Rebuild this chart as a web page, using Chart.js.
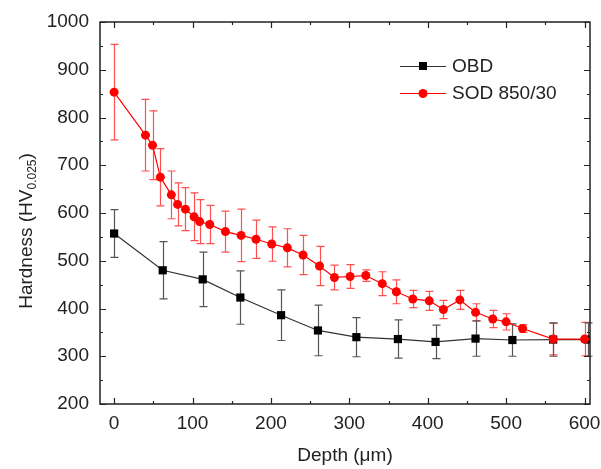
<!DOCTYPE html>
<html>
<head>
<meta charset="utf-8">
<script src="https://cdn.jsdelivr.net/npm/chart.js@4/dist/chart.umd.min.js"></script>
<style>
html, body { margin: 0; padding: 0; background: #fff; }
</style>
</head>
<body>
<canvas id="myChart" width="601" height="469"></canvas>
<script>
// OBD series (black squares)
var obdDepth = [0, 62, 113, 161, 213, 260, 309, 362, 410, 461, 508, 560, 604];
var obdHard  = [557, 480, 461, 423, 386, 354, 340, 336, 330, 337, 334, 335, 335];
var obdErr   = [50, 60, 57, 56, 53, 53, 41, 40, 35, 37, 34, 35, 35];

// SOD 850/30 series (red circles)
var sodDepth = [0, 40, 49, 59, 73, 81, 91, 102, 109, 122, 142, 162, 181, 201, 221, 241,
                262, 281, 301, 321, 342, 360, 381, 402, 420, 441, 461, 483, 500, 521, 560, 600];
var sodHard  = [853, 763, 742, 675, 638, 618, 608, 592, 582, 576, 561, 553, 545, 535, 527, 512,
                489, 465, 467, 469, 452, 435, 420, 416, 398, 418, 392, 378, 372, 358, 336, 336];
var sodErr   = [100, 75, 72, 60, 50, 45, 45, 50, 46, 40, 43, 55, 40, 36, 40, 41,
                41, 26, 25, 12, 25, 25, 18, 20, 19, 20, 18, 18, 17, 8, 33, 35];

var xTicks = [0, 100, 200, 300, 400, 500, 600];
var xMinor = [50, 150, 250, 350, 450, 550];
var yTicks = [200, 300, 400, 500, 600, 700, 800, 900, 1000];
var yMinor = [250, 350, 450, 550, 650, 750, 850, 950];

function pts(xs, ys, es) {
    return xs.map(function (x, i) { return { x: x, y: ys[i], err: es[i] }; });
}

var FONT = "'Liberation Sans', Arial, sans-serif";
var TXT = '#222';

var errorBars = {
    id: 'errorBars',
    beforeDatasetsDraw: function (chart) {
        var ctx = chart.ctx, ys = chart.scales.y;
        ctx.save();
        chart.data.datasets.forEach(function (ds, i) {
            var meta = chart.getDatasetMeta(i);
            ctx.strokeStyle = ds.errColor;
            ctx.lineWidth = 1.2;
            meta.data.forEach(function (el, j) {
                var d = ds.data[j];
                var top = ys.getPixelForValue(d.y + d.err);
                var bot = ys.getPixelForValue(d.y - d.err);
                var px = Math.round(el.x) + 0.5;
                ctx.beginPath();
                ctx.moveTo(px, top); ctx.lineTo(px, bot);
                ctx.moveTo(px - 4, top); ctx.lineTo(px + 4, top);
                ctx.moveTo(px - 4, bot); ctx.lineTo(px + 4, bot);
                ctx.stroke();
            });
        });
        ctx.restore();
    }
};

var frame = {
    id: 'frame',
    afterDatasetsDraw: function (chart) {
        var ctx = chart.ctx, a = chart.chartArea, xs = chart.scales.x, ys = chart.scales.y;
        ctx.save();
        ctx.strokeStyle = '#222';
        ctx.lineWidth = 1.5;
        ctx.strokeRect(a.left, a.top, a.right - a.left, a.bottom - a.top);
        ctx.lineWidth = 1.2;
        ctx.beginPath();
        function xt(v, len) {
            var p = Math.round(xs.getPixelForValue(v)) + 0.5;
            ctx.moveTo(p, a.bottom); ctx.lineTo(p, a.bottom - len);
            ctx.moveTo(p, a.top); ctx.lineTo(p, a.top + len);
        }
        function yt(v, len) {
            var p = Math.round(ys.getPixelForValue(v)) + 0.5;
            ctx.moveTo(a.left, p); ctx.lineTo(a.left + len, p);
            ctx.moveTo(a.right, p); ctx.lineTo(a.right - len, p);
        }
        xTicks.forEach(function (v) { xt(v, 6); });
        xMinor.forEach(function (v) { xt(v, 3); });
        yTicks.forEach(function (v) { yt(v, 6); });
        yMinor.forEach(function (v) { yt(v, 3); });
        ctx.stroke();

        // legend
        var items = [
            { label: 'OBD', color: '#000', line: '#333', style: 'rect', y: 66 },
            { label: 'SOD 850/30', color: '#ff0000', line: '#ff0000', style: 'circle', y: 93 }
        ];
        ctx.font = '19px ' + FONT;
        ctx.textBaseline = 'middle';
        items.forEach(function (it) {
            ctx.strokeStyle = it.line;
            ctx.lineWidth = 1.2;
            ctx.beginPath();
            ctx.moveTo(400, it.y + 0.5); ctx.lineTo(446, it.y + 0.5);
            ctx.stroke();
            ctx.fillStyle = it.color;
            if (it.style === 'rect') {
                ctx.fillRect(419, it.y - 4, 8, 8);
            } else {
                ctx.beginPath();
                ctx.arc(423, it.y + 0.5, 4.5, 0, Math.PI * 2);
                ctx.fill();
            }
            ctx.fillStyle = TXT;
            ctx.fillText(it.label, 452, it.y + 1);
        });

        // y axis title with subscript
        var main = 'Hardness (HV', sub = '0.025', tail = ')';
        ctx.font = '19px ' + FONT;
        var w1 = ctx.measureText(main).width, w3 = ctx.measureText(tail).width;
        ctx.font = '12px ' + FONT;
        var w2 = ctx.measureText(sub).width;
        var total = w1 + w2 + w3;
        ctx.translate(32, 231);
        ctx.rotate(-Math.PI / 2);
        ctx.textBaseline = 'alphabetic';
        ctx.fillStyle = TXT;
        var sx = -total / 2;
        ctx.font = '19px ' + FONT;
        ctx.fillText(main, sx, 0);
        ctx.font = '12px ' + FONT;
        ctx.fillText(sub, sx + w1, 4);
        ctx.font = '19px ' + FONT;
        ctx.fillText(tail, sx + w1 + w2, 0);
        ctx.restore();
    }
};

var ctx = document.getElementById('myChart').getContext('2d');
var myChart = new Chart(ctx, {
    type: 'line',
    data: {
        datasets: [{
            label: 'SOD 850/30',
            data: pts(sodDepth, sodHard, sodErr),
            borderColor: '#ff0000',
            backgroundColor: '#ff0000',
            borderWidth: 1.2,
            pointStyle: 'circle',
            pointRadius: 4.5,
            pointBorderWidth: 0,
            errColor: '#ff5050'
        }, {
            label: 'OBD',
            data: pts(obdDepth, obdHard, obdErr),
            borderColor: '#333',
            backgroundColor: '#000',
            borderWidth: 1.2,
            pointStyle: 'rect',
            pointRadius: 5.8,
            pointBorderWidth: 0,
            errColor: '#555'
        }]
    },
    options: {
        responsive: false,
        animation: false,
        events: [],
        layout: { padding: { left: 0, top: 22, right: 11, bottom: 0 } },
        plugins: {
            legend: { display: false },
            tooltip: { enabled: false }
        },
        scales: {
            x: {
                type: 'linear',
                min: -18,
                max: 607,
                afterBuildTicks: function (s) { s.ticks = xTicks.map(function (v) { return { value: v }; }); },
                afterFit: function (s) { s.height = 65; s.paddingLeft = 0; s.paddingRight = 0; },
                grid: { display: false, drawTicks: false },
                border: { display: false },
                ticks: {
                    color: TXT, font: { family: FONT, size: 19 }, padding: 8, maxRotation: 0,
                    callback: function (v) { return String(v); }
                },
                title: {
                    display: true,
                    text: 'Depth (\u03bcm)',
                    color: TXT,
                    font: { family: FONT, size: 19 },
                    padding: { top: 0, bottom: 2 }
                }
            },
            y: {
                min: 200,
                max: 1000,
                afterBuildTicks: function (s) { s.ticks = yTicks.map(function (v) { return { value: v }; }); },
                afterFit: function (s) { s.width = 100; s.paddingTop = 0; s.paddingBottom = 0; },
                grid: { display: false, drawTicks: false },
                border: { display: false },
                ticks: {
                    color: TXT, font: { family: FONT, size: 19 }, padding: 11,
                    callback: function (v) { return String(v); }
                }
            }
        }
    },
    plugins: [errorBars, frame]
});
</script>
</body>
</html>
